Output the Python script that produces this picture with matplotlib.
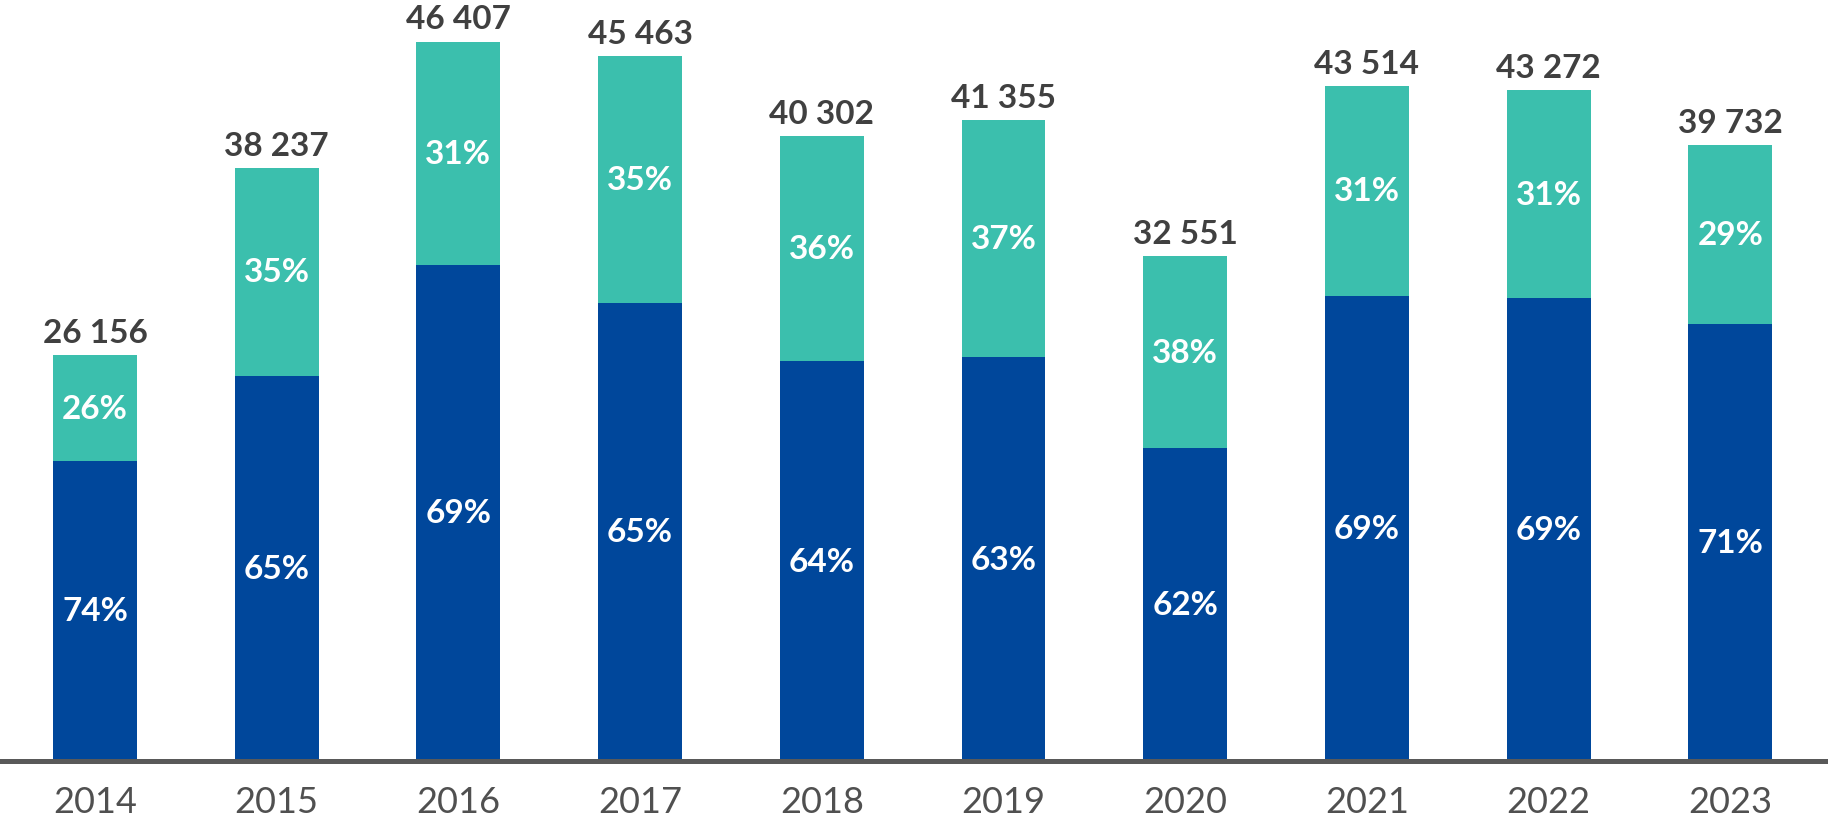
import numpy as np
from matplotlib import pyplot as plt

years = ['2014', '2015', '2016', '2017', '2018', '2019', '2020', '2021', '2022', '2023']
totals = [26156, 38237, 46407, 45463, 40302, 41355, 32551, 43514, 43272, 39732]
pct_bottom = [74, 65, 69, 65, 64, 63, 62, 69, 69, 71]
pct_top = [26, 35, 31, 35, 36, 37, 38, 31, 31, 29]

plt.rcParams['font.family'] = ['Lato', 'DejaVu Sans']

fig = plt.figure(figsize=(18.28, 8.28), dpi=100)
ax = fig.add_axes([0, 66/828, 1, 762/828])

x = np.arange(len(years))
tot = np.array(totals, dtype=float)
bottom = tot * np.array(pct_bottom) / 100
top = tot - bottom

w = 0.462
ax.bar(x, bottom, width=w, color='#00479B', zorder=2)
ax.bar(x, top, width=w, bottom=bottom, color='#3BBFAD', zorder=2)

for i in range(len(years)):
    ax.text(x[i], bottom[i] / 2, f'{pct_bottom[i]}%', ha='center', va='center',
            color='white', fontsize=24, fontweight='bold')
    ax.text(x[i], bottom[i] + top[i] / 2, f'{pct_top[i]}%', ha='center', va='center',
            color='white', fontsize=24, fontweight='bold')
    lab = f'{totals[i]:,}'.replace(',', ' ')
    ax.text(x[i], tot[i] + 850, lab, ha='center', va='baseline',
            color='#404040', fontsize=24, fontweight='bold')

ax.set_xlim(-0.523, 9.538)
ax.set_ylim(0, 49150)
ax.set_xticks(x)
ax.set_xticklabels(years, fontsize=26, color='#505050')
ax.tick_params(axis='x', length=0, pad=17)
ax.set_yticks([])
for s in ['top', 'left', 'right']:
    ax.spines[s].set_visible(False)
ax.spines['bottom'].set_color('#595959')
ax.spines['bottom'].set_linewidth(3.6)
ax.spines['bottom'].set_zorder(3)

plt.savefig('out.png', dpi=100)
